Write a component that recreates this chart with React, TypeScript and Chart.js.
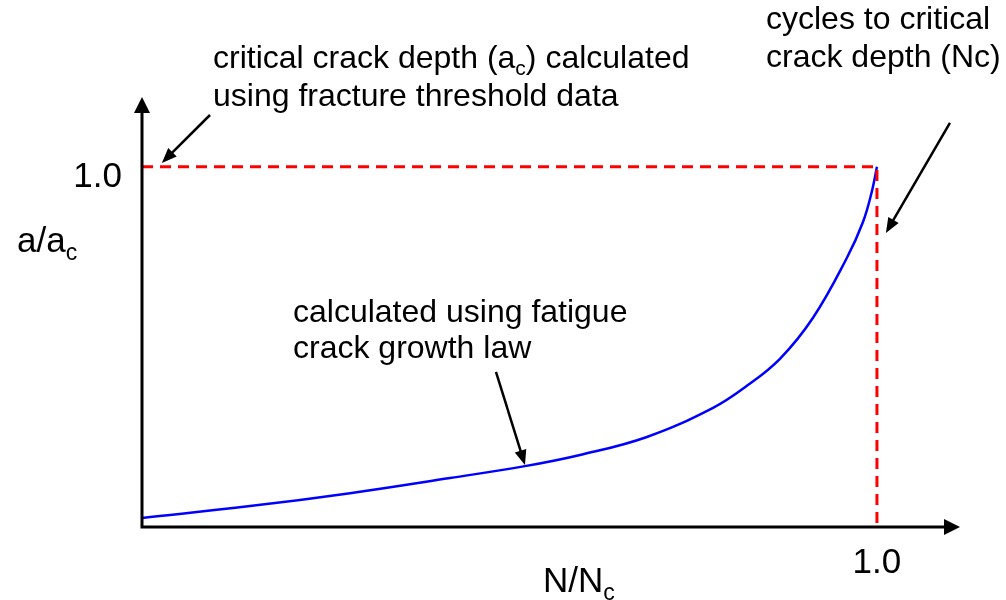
import React, { useEffect, useRef } from "react";
import { Chart, registerables } from "chart.js";

Chart.register(...registerables);

// Curve: normalised crack depth vs normalised cycles
const cycleRatio = [0, 0.147, 0.283, 0.419, 0.521, 0.596, 0.687, 0.777, 0.823, 0.868, 0.913, 0.959, 0.981, 0.993, 1.0];
const depthRatio = [0.025, 0.058, 0.094, 0.136, 0.169, 0.2, 0.25, 0.331, 0.392, 0.467, 0.581, 0.747, 0.847, 0.931, 1.0];

// Critical limits (dashed red guide)
const criticalX = [0, 1, 1];
const criticalY = [1, 1, 0];

// Axis extents (arrow tips)
const X_MAX = 1.113;
const Y_MAX = 1.194;

// Tick labels
const xTickLabel = "1.0";
const yTickLabel = "1.0";

// Annotation arrows: [fromX, fromY, toX, toY] in data units
const arrowCritical = [0.0925, 1.144, 0.027, 1.011];
const arrowCycles = [1.0993, 1.122, 1.0122, 0.8167];
const arrowGrowth = [0.4816, 0.4306, 0.5211, 0.1722];

const FONT = "'Liberation Sans', Arial, Helvetica, sans-serif";

type Part = { t: string; sub?: boolean };

function drawRich(ctx: CanvasRenderingContext2D, parts: Part[], x: number, y: number, size: number, align: "left" | "right" | "center" = "left") {
  const subSize = Math.round(size * 0.66);
  let total = 0;
  for (const p of parts) {
    ctx.font = `${p.sub ? subSize : size}px ${FONT}`;
    total += ctx.measureText(p.t).width;
  }
  let cx = x;
  if (align === "right") cx = x - total;
  else if (align === "center") cx = x - total / 2;
  ctx.textAlign = "left";
  ctx.textBaseline = "alphabetic";
  ctx.fillStyle = "#000";
  for (const p of parts) {
    ctx.font = `${p.sub ? subSize : size}px ${FONT}`;
    ctx.fillText(p.t, cx, p.sub ? y + Math.round(size * 0.22) : y);
    cx += ctx.measureText(p.t).width;
  }
}

function arrowHead(ctx: CanvasRenderingContext2D, fx: number, fy: number, tx: number, ty: number, len: number, half: number) {
  const ang = Math.atan2(ty - fy, tx - fx);
  const bx = tx - len * Math.cos(ang);
  const by = ty - len * Math.sin(ang);
  ctx.beginPath();
  ctx.moveTo(tx, ty);
  ctx.lineTo(bx + half * Math.sin(ang), by - half * Math.cos(ang));
  ctx.lineTo(bx - half * Math.sin(ang), by + half * Math.cos(ang));
  ctx.closePath();
  ctx.fill();
}

function drawArrow(ctx: CanvasRenderingContext2D, chart: any, a: number[]) {
  const xs = chart.scales.x, ys = chart.scales.y;
  const fx = xs.getPixelForValue(a[0]), fy = ys.getPixelForValue(a[1]);
  const tx = xs.getPixelForValue(a[2]), ty = ys.getPixelForValue(a[3]);
  const ang = Math.atan2(ty - fy, tx - fx);
  ctx.strokeStyle = "#000";
  ctx.fillStyle = "#000";
  ctx.lineWidth = 2.5;
  ctx.beginPath();
  ctx.moveTo(fx, fy);
  ctx.lineTo(tx - 10 * Math.cos(ang), ty - 10 * Math.sin(ang));
  ctx.stroke();
  arrowHead(ctx, fx, fy, tx, ty, 15, 6);
}

const overlay = {
  id: "overlay",
  afterDatasetsDraw(chart: any) {
    const ctx: CanvasRenderingContext2D = chart.ctx;
    const xs = chart.scales.x, ys = chart.scales.y;
    const x0 = xs.getPixelForValue(0), y0 = ys.getPixelForValue(0);
    const xEnd = xs.getPixelForValue(X_MAX), yEnd = ys.getPixelForValue(Y_MAX);
    ctx.save();
    ctx.setLineDash([]);
    ctx.strokeStyle = "#000";
    ctx.fillStyle = "#000";
    ctx.lineWidth = 3;
    ctx.lineCap = "butt";
    // axes
    ctx.beginPath();
    ctx.moveTo(x0, y0 + 1.5);
    ctx.lineTo(x0, yEnd + 10);
    ctx.moveTo(x0 - 1.5, y0);
    ctx.lineTo(xEnd - 10, y0);
    ctx.stroke();
    arrowHead(ctx, x0, y0, x0, yEnd, 16, 8);
    arrowHead(ctx, x0, y0, xEnd, y0, 16, 8);

    // annotation arrows
    drawArrow(ctx, chart, arrowCritical);
    drawArrow(ctx, chart, arrowCycles);
    drawArrow(ctx, chart, arrowGrowth);

    // tick labels
    drawRich(ctx, [{ t: yTickLabel }], x0 - 20, ys.getPixelForValue(1) + 20, 35, "right");
    drawRich(ctx, [{ t: xTickLabel }], xs.getPixelForValue(1), y0 + 46, 35, "center");

    // axis titles
    drawRich(ctx, [{ t: "a/a" }, { t: "c", sub: true }], 17, 252, 35);
    drawRich(ctx, [{ t: "N/N" }, { t: "c", sub: true }], 543, 592, 35);

    // annotation texts
    drawRich(ctx, [{ t: "critical crack depth (a" }, { t: "c", sub: true }, { t: ") calculated" }], 213, 68, 32);
    drawRich(ctx, [{ t: "using fracture threshold data" }], 213, 106, 32);
    drawRich(ctx, [{ t: "cycles to critical" }], 766, 29, 32);
    drawRich(ctx, [{ t: "crack depth (Nc)" }], 766, 67, 32);
    drawRich(ctx, [{ t: "calculated using fatigue" }], 293, 322, 32);
    drawRich(ctx, [{ t: "crack growth law" }], 293, 358, 32);
    ctx.restore();
  },
};

export default function App() {
  const ref = useRef<HTMLCanvasElement | null>(null);
  useEffect(() => {
    if (!ref.current) return;
    const chart = new Chart(ref.current, {
      type: "line",
      data: {
        datasets: [
          {
            label: "critical",
            data: criticalX.map((x, i) => ({ x, y: criticalY[i] })),
            borderColor: "#ff0000",
            borderWidth: 3,
            borderDash: [11, 7],
            pointRadius: 0,
            tension: 0,
            fill: false,
          },
          {
            label: "growth",
            data: cycleRatio.map((x, i) => ({ x, y: depthRatio[i] })),
            borderColor: "#0000ff",
            borderWidth: 2.5,
            pointRadius: 0,
            tension: 0.4,
            fill: false,
          },
        ],
      },
      options: {
        responsive: false,
        animation: false,
        devicePixelRatio: 1,
        layout: { padding: { left: 142, right: 46, top: 97, bottom: 73 } },
        plugins: { legend: { display: false }, tooltip: { enabled: false } },
        scales: {
          x: { type: "linear", min: 0, max: X_MAX, display: false },
          y: { type: "linear", min: 0, max: Y_MAX, display: false },
        },
      },
      plugins: [overlay],
    });
    return () => chart.destroy();
  }, []);
  return (
    <div style={{ position: "absolute", left: 0, top: 0, width: 1006, height: 600, background: "#fff" }}>
      <canvas ref={ref} width={1006} height={600} />
    </div>
  );
}
